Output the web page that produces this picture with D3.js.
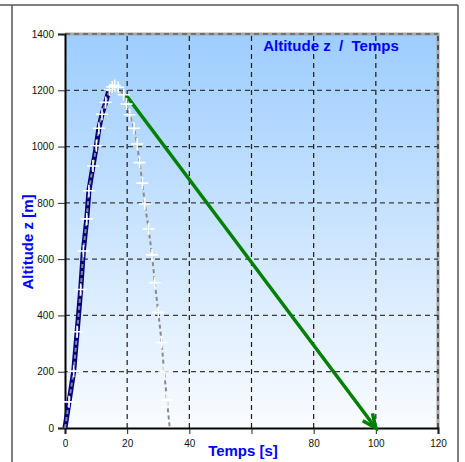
<!DOCTYPE html>
<html>
<head>
<meta charset="utf-8">
<script src="https://cdn.jsdelivr.net/npm/d3@7"></script>
<style>
  body { margin: 0; background: #fff; }
  svg { display: block; font-family: "Liberation Sans", Arial, sans-serif; }
</style>
</head>
<body>
<svg id="chart" width="465" height="462"></svg>
<script>
// values
var x_ticks = [0, 20, 40, 60, 80, 100, 120];
var y_ticks = [0, 200, 400, 600, 800, 1000, 1200, 1400];

// full trajectory (gray dashed + white crosses)
var traj_t = [0, 1.3, 2.8, 3.9, 5.05, 5.9, 7.0, 7.7, 9.0, 10.1, 10.9, 11.9, 13.1, 14.4, 15.2, 16.0, 17.1, 18.9, 19.8, 20.8, 22.2, 23.2, 24.0, 24.9, 25.7, 26.9, 28.0, 28.9, 30.0, 31.1, 31.9, 32.8, 33.7];
var traj_z = [0, 93, 202, 342, 492, 629, 743, 843, 931, 1003, 1065, 1115, 1157, 1202, 1212, 1217, 1211, 1184, 1151, 1113, 1065, 1009, 943, 870, 796, 707, 615, 516, 411, 304, 199, 100, 0];

// ascent (navy)
var ascent_t = [0, 1.3, 2.8, 3.9, 5.05, 5.9, 7.0, 7.7, 9.0, 10.1, 10.9, 11.9, 13.1, 14.0];
var ascent_z = [0, 93, 202, 342, 492, 629, 743, 843, 931, 1003, 1065, 1115, 1157, 1195];

// descent vector (green arrow)
var arrow_t = [19.5, 100];
var arrow_z = [1185, 0];

var svg = d3.select("#chart");
var margin = {left: 65, right: 27, top: 34, bottom: 34};
var W = 465, H = 462;

var x = d3.scaleLinear().domain([0, 120]).range([margin.left, W - margin.right]);
var y = d3.scaleLinear().domain([0, 1400]).range([H - margin.bottom, margin.top]);

// outer frame
svg.append("path")
    .attr("d", `M0,5 H458 M12,5 V462 M458,5 V462`)
    .attr("stroke", "#555").attr("stroke-width", 1.5).attr("fill", "none");

var defs = svg.append("defs");
var grad = defs.append("linearGradient").attr("id", "bg").attr("x1", 0).attr("y1", 0).attr("x2", 0).attr("y2", 1);
grad.append("stop").attr("offset", "0%").attr("stop-color", "#9dcdff");
grad.append("stop").attr("offset", "100%").attr("stop-color", "#fafcff");

svg.append("rect")
    .attr("x", x(0)).attr("y", y(1400))
    .attr("width", x(120) - x(0)).attr("height", y(0) - y(1400))
    .attr("fill", "url(#bg)");

// gray border on top/right
svg.append("path")
    .attr("d", `M${x(0)},${y(1400)} H${x(120)} V${y(0)}`)
    .attr("stroke", "#a8a8a8").attr("stroke-width", 3).attr("fill", "none");

// grid
svg.append("g").selectAll("line").data(x_ticks.slice(1)).join("line")
    .attr("x1", d => x(d)).attr("x2", d => x(d))
    .attr("y1", y(0)).attr("y2", y(1400))
    .attr("stroke", "#1a1a1a").attr("stroke-width", 1.2).attr("stroke-dasharray", "5,4");
svg.append("g").selectAll("line").data(y_ticks.slice(1)).join("line")
    .attr("x1", x(0)).attr("x2", x(120))
    .attr("y1", d => y(d)).attr("y2", d => y(d))
    .attr("stroke", "#3a3a3a").attr("stroke-width", 1.2).attr("stroke-dasharray", "5,4");

// axes ("60" is hidden under the axis title in the original)
var xAxis = d3.axisBottom(x).tickValues(x_ticks).tickSize(6).tickPadding(6)
    .tickFormat(d => d == 60 ? "" : d3.format("d")(d));
var yAxis = d3.axisLeft(y).tickValues(y_ticks).tickSize(7).tickPadding(4).tickFormat(d3.format("d"));

var gx = svg.append("g").attr("transform", `translate(0,${y(0)})`).call(xAxis);
var gy = svg.append("g").attr("transform", `translate(${x(0)},0)`).call(yAxis);
[gx, gy].forEach(g => {
    g.select(".domain").attr("stroke", "#000").attr("stroke-width", 2);
    g.selectAll(".tick line").attr("stroke", "#222").attr("stroke-width", 1);
    g.selectAll(".tick text").attr("fill", "#111").style("font-size", "10px")
        .style("font-family", "Liberation Sans, Arial, sans-serif");
});

var line = d3.line().x(d => x(d[0])).y(d => y(d[1]));

var ascent = ascent_t.map((t, i) => [t, ascent_z[i]]);
var traj = traj_t.map((t, i) => [t, traj_z[i]]);

svg.append("path").datum(ascent).attr("d", line)
    .attr("fill", "none").attr("stroke", "#000080").attr("stroke-width", 5);

svg.append("path").datum(traj).attr("d", line)
    .attr("fill", "none").attr("stroke", "#8a8a8a").attr("stroke-width", 2)
    .attr("stroke-dasharray", "4,3");

// green arrow
var a0 = [x(arrow_t[0]), y(arrow_z[0])], a1 = [x(arrow_t[1]), y(arrow_z[1])];
svg.append("line")
    .attr("x1", a0[0]).attr("y1", a0[1]).attr("x2", a1[0] - 2).attr("y2", a1[1] - 2.5)
    .attr("stroke", "#008000").attr("stroke-width", 3.5);
var ang = Math.atan2(a1[1] - a0[1], a1[0] - a0[0]);
var barb = 15, spread = 0.42;
var b1 = [a1[0] - barb * Math.cos(ang - spread), a1[1] - barb * Math.sin(ang - spread)];
var b2 = [a1[0] - barb * Math.cos(ang + spread), a1[1] - barb * Math.sin(ang + spread)];
svg.append("path")
    .attr("d", `M${b1[0]},${b1[1]} L${a1[0]},${a1[1]} L${b2[0]},${b2[1]}`)
    .attr("fill", "none").attr("stroke", "#008000").attr("stroke-width", 3.5)
    .attr("stroke-linejoin", "miter");

// white crosses
svg.append("g").selectAll("path").data(traj.slice(1, -1)).join("path")
    .attr("d", d => `M${x(d[0]) - 6},${y(d[1])} h12 M${x(d[0])},${y(d[1]) - 6} v12`)
    .attr("stroke", "#fff").attr("stroke-width", 1.6);

// title and labels
svg.append("text").attr("x", 331).attr("y", 51).attr("text-anchor", "middle")
    .attr("fill", "#0000ff").style("font-weight", "bold").style("font-size", "15px")
    .attr("xml:space", "preserve").text("Altitude z  /  Temps");

svg.append("text").attr("x", 243).attr("y", 456).attr("text-anchor", "middle")
    .attr("fill", "#0000ff").style("font-weight", "bold").style("font-size", "15px")
    .text("Temps [s]");

svg.append("text").attr("transform", "translate(33,242) rotate(-90)").attr("text-anchor", "middle")
    .attr("fill", "#0000ff").style("font-weight", "bold").style("font-size", "15px")
    .text("Altitude z [m]");
</script>
</body>
</html>
